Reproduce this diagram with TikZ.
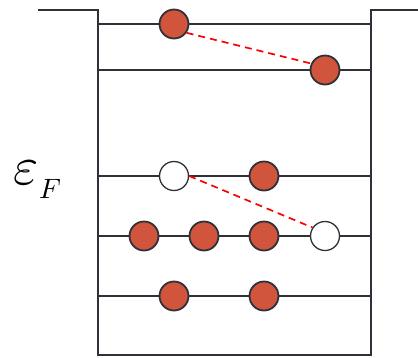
\documentclass[tikz,border=0pt]{standalone}
\usetikzlibrary{positioning}
\definecolor{eletron}{RGB}{208,85,60}
\definecolor{linha}{RGB}{48,48,56}
\tikzset{
  cheio/.style={circle,draw=linha,fill=eletron,line width=1.8pt,minimum size=29pt,inner sep=0pt},
  vazio/.style={circle,draw=linha,fill=white,line width=1.3pt,minimum size=29pt,inner sep=0pt},
  salto/.style={red,line width=1.7pt,dash pattern=on 7pt off 5pt}
}
\begin{document}
\begin{tikzpicture}[x=1pt,y=-1pt,line width=1.8pt]
  \useasboundingbox (0,0) rectangle (418,357);
  %poco
  \coordinate (b1) at (38,10);
  \coordinate (b2) at (98,10);
  \coordinate (b3) at (98,355);
  \coordinate (b4) at (371,355);
  \coordinate (b5) at (371,10);
  \coordinate (b6) at (418,10);
  \draw[linha] (b1) -- (b2) -- (b3) -- (b4) -- (b5) -- (b6);

  %niveis
  \foreach \y in {24,70,176,236,296}
    \draw[linha] (98,\y) -- (371,\y);

  %eletrons
  \node[cheio] (a1) at (174,24) {};
  \node[cheio] (a2) at (325,70) {};
  \node[vazio] (c1) at (174,176) {};
  \node[cheio] (c2) at (264,176) {};
  \node[cheio] (d1) at (144,236) {};
  \node[cheio] (d2) at (204,236) {};
  \node[cheio] (d3) at (264,236) {};
  \node[vazio] (d4) at (325,236) {};
  \node[cheio] (f1) at (174,296) {};
  \node[cheio] (f2) at (264,296) {};

  %transicoes
  \draw[salto] (a1.-35) -- (a2.155);
  \draw[salto] (c1.east) -- (d4.146);

  %nivel de Fermi
  \node[anchor=base west,inner sep=0pt] (ef) at (13,184)
    {\scalebox{5.4}{$\varepsilon$}\raisebox{-14pt}{\scalebox{2.8}{$F$}}};
\end{tikzpicture}
\end{document}
